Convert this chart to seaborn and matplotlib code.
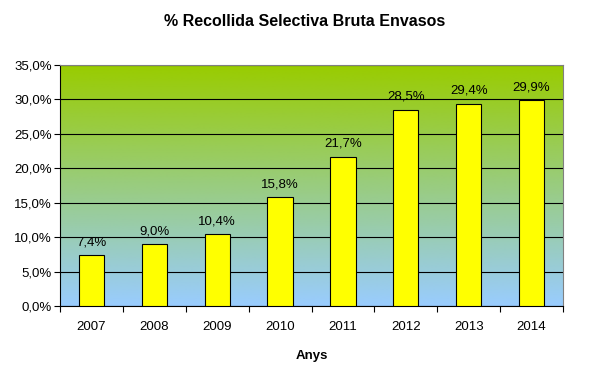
import matplotlib
matplotlib.use("Agg")
import matplotlib.pyplot as plt
import seaborn as sns
import numpy as np
import pandas as pd
from matplotlib.colors import LinearSegmentedColormap
from matplotlib.ticker import FuncFormatter, MultipleLocator, FixedLocator

years = ["2007", "2008", "2009", "2010", "2011", "2012", "2013", "2014"]
values = [7.4, 9.0, 10.4, 15.8, 21.7, 28.5, 29.4, 29.9]
title = "% Recollida Selectiva Bruta Envasos"
xlabel = "Anys"

sns.set_theme(style="white")
plt.rcParams['font.family'] = ['Liberation Sans', 'DejaVu Sans']
plt.rcParams.update({"text.color": "black", "axes.labelcolor": "black",
                     "xtick.color": "black", "ytick.color": "black"})

fig = plt.figure(figsize=(6.09, 3.69), dpi=100)
ax = fig.add_axes([60/609, 1-306/369, (563-60)/609, (306-65)/369])

df = pd.DataFrame({"year": years, "value": values})
sns.barplot(data=df, x="year", y="value", ax=ax, color="#FFFF00",
            edgecolor="black", linewidth=0.8, width=0.4, saturation=1, zorder=3)

# gradient background
cmap = LinearSegmentedColormap.from_list("bg", ["#99CCFF", "#99CC00"])
grad = np.linspace(0, 1, 256).reshape(-1, 1)
ax.imshow(grad, aspect="auto", cmap=cmap, origin="lower",
          extent=[0, 1, 0, 1], transform=ax.transAxes, zorder=0)

ax.set_xlim(-0.5, len(years) - 0.5)
ax.set_ylim(0, 35)
ax.yaxis.set_major_locator(MultipleLocator(5))
ax.yaxis.set_major_formatter(FuncFormatter(lambda v, p: f"{v:.1f}%".replace(".", ",")))
ax.grid(axis="y", color="black", linewidth=0.8, zorder=1)
ax.set_axisbelow(True)

for i, v in enumerate(values):
    ax.text(i, v + 1.0, f"{v:.1f}%".replace(".", ","), ha="center", va="bottom",
            fontsize=9.5, color="black", zorder=4)

ax.set_xticks(range(len(years)))
ax.set_xticklabels(years, fontsize=9.5)
ax.tick_params(axis="x", which="major", length=0, pad=11)
ax.xaxis.set_minor_locator(FixedLocator(np.arange(-0.5, len(years), 1)))
ax.tick_params(axis="x", which="minor", length=4, width=0.8, color="black", direction="out", bottom=True)
ax.tick_params(axis="y", which="major", length=4, width=0.8, color="black", direction="out", left=True, labelsize=9.5, pad=2)

for s in ["left", "bottom"]:
    ax.spines[s].set_color("black")
    ax.spines[s].set_linewidth(0.8)
for s in ["top", "right"]:
    ax.spines[s].set_color("#808080")
    ax.spines[s].set_linewidth(0.8)

ax.set_xlabel(xlabel, fontsize=9.5, fontweight="bold", labelpad=12, color="black")
ax.set_ylabel("")
fig.suptitle(title, fontsize=11.5, fontweight="bold", x=0.5, y=1-22/369, va="center", color="black")

fig.savefig("out.png", dpi=100, facecolor="white")
